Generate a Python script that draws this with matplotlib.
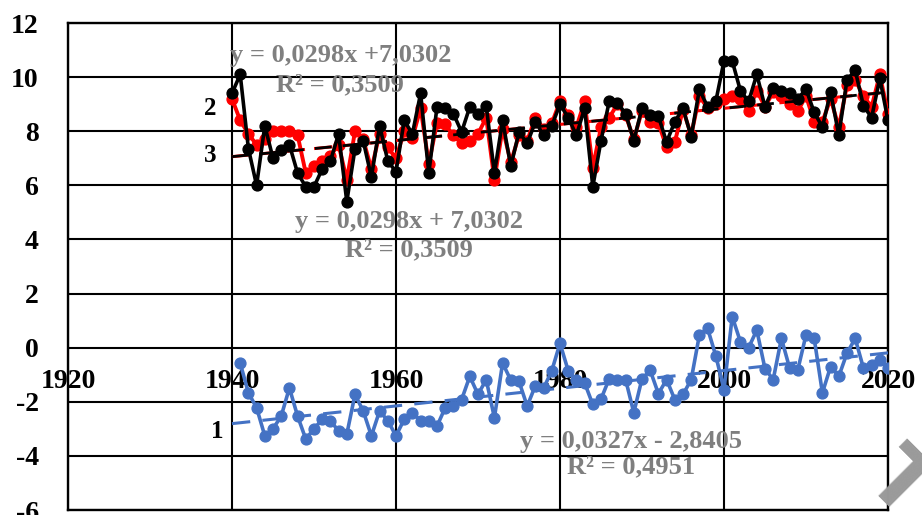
import matplotlib
matplotlib.use("Agg")
import matplotlib.pyplot as plt
import numpy as np

years_main = list(range(1940, 2021))
series2_red = [9.2, 8.4, 7.9, 7.5, 7.7, 8.0, 8.0, 8.0, 7.85, 6.45,
               6.7, 6.9, 7.1, 7.5, 6.2, 8.0, 7.7, 6.6, 7.9, 7.4,
               7.0, 8.0, 7.75, 8.85, 6.8, 8.3, 8.25, 7.85, 7.55, 7.65,
               7.9, 8.5, 6.2, 8.1, 6.85, 7.85, 7.65, 8.5, 8.1, 8.3,
               9.1, 8.6, 8.15, 9.1, 6.65, 8.15, 8.5, 9.0, 8.6, 7.7,
               8.75, 8.35, 8.3, 7.4, 7.6, 8.8, 7.85, 9.3, 8.85, 9.0,
               9.2, 9.3, 9.2, 8.75, 9.5, 8.9, 9.45, 9.3, 9.0, 8.75,
               9.3, 8.35, 8.35, 9.2, 8.15, 9.7, 9.9, 9.3, 8.9, 10.1,
               8.65]
series3_black = [9.4, 10.1, 7.36, 6.0, 8.2, 7.0, 7.3, 7.5, 6.45, 5.95,
                 5.95, 6.6, 6.9, 7.9, 5.4, 7.35, 7.65, 6.3, 8.2, 6.9,
                 6.5, 8.4, 7.9, 9.4, 6.45, 8.9, 8.85, 8.65, 7.97, 8.9,
                 8.65, 8.95, 6.45, 8.4, 6.7, 7.97, 7.55, 8.35, 7.85, 8.2,
                 9.0, 8.5, 7.85, 8.85, 5.95, 7.65, 9.1, 9.05, 8.65, 7.65,
                 8.85, 8.6, 8.55, 7.6, 8.35, 8.85, 7.8, 9.55, 8.9, 9.1,
                 10.6, 10.6, 9.5, 9.1, 10.1, 8.9, 9.6, 9.5, 9.4, 9.2,
                 9.55, 8.7, 8.15, 9.45, 7.85, 9.9, 10.25, 8.95, 8.5, 9.95,
                 8.4]
years_blue = list(range(1941, 2021))
series1_blue = [-0.57, -1.67, -2.22, -3.26, -3.0, -2.53, -1.49, -2.53, -3.38, -3.0,
                -2.65, -2.7, -3.08, -3.2, -1.73, -2.34, -3.26, -2.34, -2.7, -3.26,
                -2.65, -2.4, -2.7, -2.7, -2.9, -2.22, -2.16, -1.92, -1.06, -1.73,
                -1.18, -2.59, -0.57, -1.2, -1.25, -2.16, -1.4, -1.5, -0.85, 0.16,
                -0.85, -1.2, -1.3, -2.1, -1.9, -1.15, -1.18, -1.18, -2.4, -1.15,
                -0.84, -1.7, -1.18, -1.92, -1.73, -1.18, 0.47, 0.71, -0.3, -1.55,
                1.15, 0.22, 0.0, 0.65, -0.78, -1.18, 0.34, -0.75, -0.82, 0.47,
                0.34, -1.67, -0.7, -1.06, -0.2, 0.34, -0.75, -0.63, -0.45, -0.75]

# trend equations (x = index starting at 1)
trend_main = (0.0298, 7.0302)
trend_blue = (0.0327, -2.8405)

x_ticks = [1920, 1940, 1960, 1980, 2000, 2020]
y_ticks = [-6, -4, -2, 0, 2, 4, 6, 8, 10, 12]

SERIF = ["Liberation Serif", "DejaVu Serif"]
plt.rcParams['font.family'] = SERIF
plt.rcParams['axes.unicode_minus'] = False

fig = plt.figure(figsize=(9.22, 5.15), dpi=100)
ax = fig.add_axes([68/922, 5/515, (888-68)/922, (510-23)/515])
ax.set_xlim(1920, 2020)
ax.set_ylim(-6, 12)

# trend lines
xm = np.array(years_main)
idx_m = np.arange(1, len(xm) + 1)
ym_tr = trend_main[0] * idx_m + trend_main[1]
xb = np.arange(1940, 2021)
idx_b = np.arange(1, len(xb) + 1)
yb_tr = trend_blue[0] * idx_b + trend_blue[1]

ax.plot(years_main, series2_red, color='#FF0000', lw=2.8, marker='o', ms=7.8,
        zorder=3, solid_joinstyle='round')
ax.plot(xm, ym_tr, color='#FF0000', lw=2.2, ls=(0, (6, 3)), zorder=3.5)
ax.plot(years_main, series3_black, color='#000000', lw=2.6, marker='o', ms=7.8,
        zorder=4, solid_joinstyle='round')
ax.plot(xm, ym_tr, color='#000000', lw=2.0, ls=(0, (6, 4)), zorder=4.5)
ax.plot(years_blue, series1_blue, color='#4472C4', lw=2.6, marker='o', ms=7.8,
        zorder=4, solid_joinstyle='round')
ax.plot(xb, yb_tr, color='#4472C4', lw=2.2, ls=(0, (6, 4)), zorder=3.5)

# grid and frame
ax.set_xticks(x_ticks)
ax.set_yticks(y_ticks)
ax.grid(True, color='black', lw=1.5, zorder=1)
ax.set_axisbelow(True)
for s in ax.spines.values():
    s.set_color('black')
    s.set_linewidth(1.7)
ax.tick_params(axis='both', length=0)
ax.tick_params(axis='x', labelbottom=False)
ax.tick_params(axis='y', pad=21, labelsize=20)
for lab in ax.get_yticklabels():
    lab.set_fontweight('bold')

# x labels at the y=0 crossing
sec = ax.secondary_xaxis(1/3)
sec.set_xticks(x_ticks)
sec.set_xticklabels([str(t) for t in x_ticks])
sec.tick_params(length=0, pad=15, labelsize=20)
sec.spines['bottom'].set_visible(False)
for lab in sec.get_xticklabels():
    lab.set_fontweight('bold')

gray = '#7F7F7F'
tk = dict(fontsize=19, fontweight='bold', color=gray, ha='center', va='center', zorder=6)
ax.text(1953.2, 10.8, "y = 0,0298x +7,0302", **tk)
ax.text(1953.2, 9.7, "R² = 0,3509", **tk)
ax.text(1961.6, 4.65, "y = 0,0298x + 7,0302", **tk)
ax.text(1961.6, 3.6, "R² = 0,3509", **tk)
ax.text(1988.7, -3.45, "y = 0,0327x - 2,8405", **tk)
ax.text(1988.7, -4.4, "R² = 0,4951", **tk)

lk = dict(fontsize=18, fontweight='bold', color='black', ha='center', va='center', zorder=6)
ax.text(1937.3, 8.85, "2", **lk)
ax.text(1937.3, 7.1, "3", **lk)
ax.text(1938.2, -3.1, "1", **lk)

# watermark fragment
fig.text(0.975, 0.06, "Т", rotation=-45, color='#9A9A9A', fontsize=60,
         fontweight='bold', ha='center', va='center', family=['DejaVu Sans'], zorder=10)

fig.savefig("out.png", dpi=100)
